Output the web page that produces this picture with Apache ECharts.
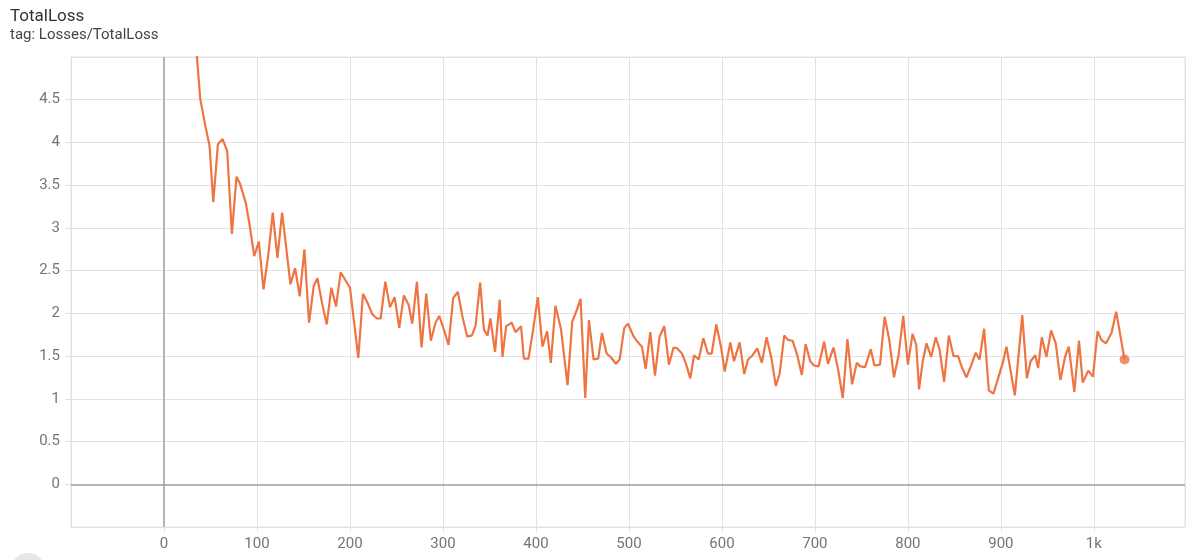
<!DOCTYPE html>
<html><head><meta charset="utf-8">
<script src="https://cdn.jsdelivr.net/npm/echarts@6/dist/echarts.min.js"></script>
<style>html,body{margin:0;padding:0;background:#fff}#c{width:1195px;height:560px}</style>
</head><body><div id="c"></div>
<script>
const titleText = 'TotalLoss';
const subtitleText = 'tag: Losses/TotalLoss';
const steps = [
34,39,44,49,53,58,63,68,73,78,82,88,92,97,102,107,112,117,122,127,131,136,141,146,151,156,161,165,170,175,
180,185,190,195,200,209,214,219,224,229,233,238,243,248,253,258,263,267,272,277,282,287,292,296,301,306,311,316,321,326,331,335,340,344,348,351,356,361,
364,368,374,378,384,387,392,397,402,407,412,416,421,427,434,439,444,448,453,457,462,467,471,476,481,486,490,495,499,505,509,514,518,523,528,533,538,543,
548,552,557,561,566,570,575,580,585,589,594,599,603,609,613,619,624,628,633,638,643,648,653,658,662,667,671,676,681,686,690,695,699,704,710,714,720,725,
730,735,740,745,749,754,760,764,770,775,780,785,790,795,800,805,809,812,816,820,825,830,834,839,844,849,854,858,863,868,873,877,882,887,892,897,902,906,
915,923,928,932,937,940,944,949,954,959,964,969,973,979,984,988,994,999,1004,1008,1013,1019,1024,1033
];
const values = [
5.2,4.51,4.22,3.96,3.30,3.98,4.04,3.90,2.93,3.60,3.51,3.29,3.04,2.67,2.84,2.28,2.67,3.18,2.65,3.18,2.81,2.34,2.53,2.20,2.75,1.89,2.32,2.41,2.12,1.87,
2.30,2.08,2.48,2.39,2.30,1.48,2.23,2.12,1.99,1.94,1.94,2.37,2.07,2.19,1.83,2.21,2.10,1.88,2.37,1.60,2.23,1.68,1.89,1.97,1.81,1.63,2.18,2.25,1.96,1.73,1.74,1.85,2.36,1.81,1.74,1.94,1.55,2.16,
1.49,1.85,1.89,1.78,1.85,1.47,1.47,1.81,2.19,1.61,1.79,1.42,2.09,1.81,1.16,1.90,2.04,2.17,1.01,1.92,1.46,1.47,1.77,1.53,1.48,1.41,1.46,1.83,1.88,1.73,1.67,1.61,1.35,1.78,1.27,1.73,1.85,1.40,
1.60,1.59,1.53,1.42,1.24,1.51,1.46,1.71,1.53,1.53,1.87,1.61,1.32,1.66,1.44,1.66,1.29,1.46,1.51,1.59,1.42,1.72,1.49,1.15,1.29,1.74,1.69,1.68,1.51,1.28,1.64,1.44,1.39,1.38,1.67,1.41,1.60,1.34,
1.01,1.70,1.17,1.42,1.38,1.37,1.58,1.39,1.40,1.96,1.69,1.25,1.51,1.97,1.40,1.76,1.63,1.11,1.44,1.65,1.49,1.72,1.58,1.20,1.74,1.50,1.50,1.37,1.25,1.39,1.54,1.46,1.82,1.10,1.06,1.24,1.42,1.61,
1.04,1.98,1.24,1.44,1.51,1.36,1.72,1.49,1.80,1.65,1.22,1.49,1.61,1.08,1.68,1.19,1.33,1.26,1.79,1.69,1.65,1.77,2.02,1.46
];
const xTickLabels = {0:'0',100:'100',200:'200',300:'300',400:'400',500:'500',600:'600',700:'700',800:'800',900:'900',1000:'1k'};
const yTickLabels = {0:'0',0.5:'0.5',1:'1',1.5:'1.5',2:'2',2.5:'2.5',3:'3',3.5:'3.5',4:'4',4.5:'4.5'};

const lineColor = '#ef7443';
const seriesData = steps.map((s, i) => [s, values[i]]);
const last = seriesData[seriesData.length - 1];

const chart = echarts.init(document.getElementById('c'), null, {renderer: 'canvas'});
chart.setOption({
  animation: false,
  backgroundColor: '#ffffff',
  textStyle: {fontFamily: 'Roboto'},
  title: {
    text: titleText, subtext: subtitleText, left: 5, top: 3, itemGap: 3,
    textStyle: {fontFamily: 'Roboto', fontSize: 17, fontWeight: 'normal', color: '#333'},
    subtextStyle: {fontFamily: 'Roboto', fontSize: 15, color: '#444'}
  },
  grid: {left: 71, right: 10, top: 57, bottom: 33, show: true, borderColor: '#e2e2e2', borderWidth: 1},
  xAxis: {
    type: 'value', min: -100, max: 1098, interval: 100,
    axisLine: {show: false, onZero: false},
    axisTick: {show: true, length: 5, lineStyle: {color: '#e2e2e2'}},
    splitLine: {show: true, lineStyle: {color: '#e2e2e2', width: 1}},
    axisLabel: {
      showMinLabel: false, showMaxLabel: false, margin: 10,
      fontFamily: 'Roboto', fontSize: 15, color: '#757575',
      formatter: v => (xTickLabels[v] !== undefined ? xTickLabels[v] : '')
    }
  },
  yAxis: {
    type: 'value', min: -0.5, max: 5, interval: 0.5,
    axisLine: {show: false, onZero: false},
    axisTick: {show: true, length: 6, lineStyle: {color: '#e2e2e2'}},
    splitLine: {show: true, lineStyle: {color: '#e2e2e2', width: 1}},
    axisLabel: {
      showMinLabel: false, showMaxLabel: false, margin: 11,
      fontFamily: 'Roboto', fontSize: 15, color: '#757575',
      formatter: v => { const k = Math.round(v * 10) / 10; return yTickLabels[k] !== undefined ? yTickLabels[k] : ''; }
    }
  },
  graphic: [{
    type: 'circle', left: 11, top: 553, silent: true,
    shape: {r: 17}, style: {fill: '#e6e6e6'}
  }],
  series: [
    {
      type: 'line', data: seriesData, showSymbol: false, symbol: 'none', clip: true,
      lineStyle: {color: lineColor, width: 2.2},
      itemStyle: {color: lineColor},
      markLine: {
        silent: true, symbol: 'none', label: {show: false},
        lineStyle: {color: '#a0a0a0', width: 1.5, type: 'solid'},
        data: [{xAxis: 0}, {yAxis: 0}]
      },
      z: 3
    },
    {
      type: 'scatter', data: [last], symbol: 'circle', symbolSize: 10,
      itemStyle: {color: lineColor}, z: 4
    }
  ]
});
</script></body></html>
